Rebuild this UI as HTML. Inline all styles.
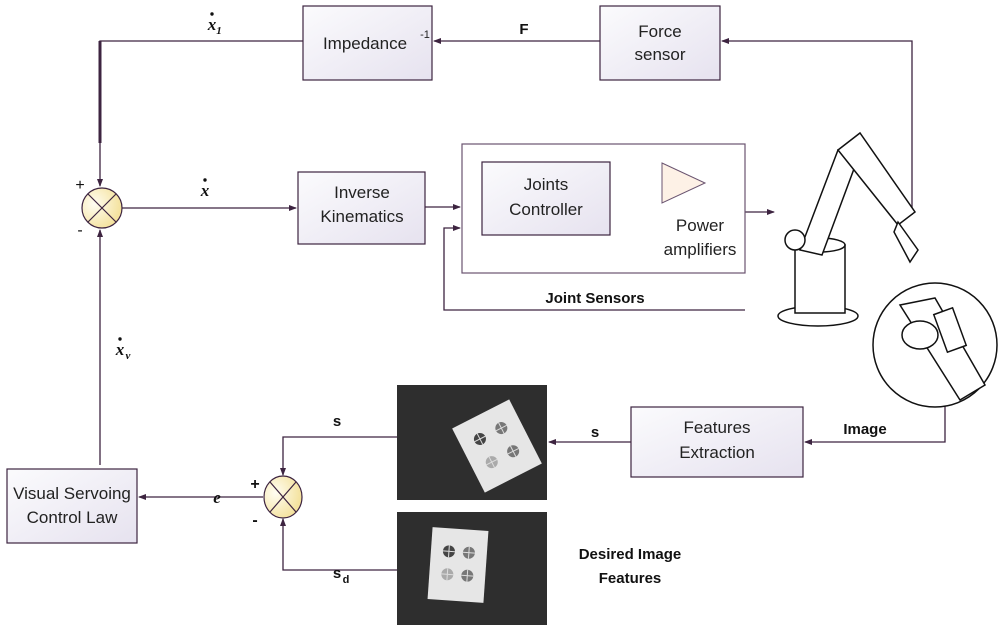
<!DOCTYPE html>
<html><head><meta charset="utf-8"><style>
body{margin:0;background:#fff;}
svg{display:block;font-family:"Liberation Sans",sans-serif;}
</style></head><body>
<svg width="1000" height="631" viewBox="0 0 1000 631" xmlns="http://www.w3.org/2000/svg">
<defs>
<linearGradient id="bx" x1="0" y1="0" x2="1" y2="1"><stop offset="0" stop-color="#fbfbfd"/><stop offset="1" stop-color="#e6e2ef"/></linearGradient>
<radialGradient id="sj" cx="0.3" cy="0.4" r="0.8"><stop offset="0" stop-color="#fffdf2"/><stop offset="1" stop-color="#f2dd8e"/></radialGradient>
<marker id="a" markerWidth="8" markerHeight="8" refX="7" refY="4" orient="auto" markerUnits="userSpaceOnUse"><path d="M0,1 L8,4 L0,7z" fill="#3d2440"/></marker>
</defs>
<g stroke="#3d2440" stroke-width="1.3" fill="none">
<path d="M912,215 V41 H722" marker-end="url(#a)"/>
<path d="M600,41 H434" marker-end="url(#a)"/>
<path d="M303,41 H100 V186" marker-end="url(#a)"/>
<path d="M100,41 V143" stroke-width="3"/>
<path d="M122,208 H296" marker-end="url(#a)"/>
<path d="M425,207 H460" marker-end="url(#a)"/>
<path d="M745,310 H444 V228 H460" marker-end="url(#a)"/>
<path d="M745,212 H774" marker-end="url(#a)"/>
<path d="M100,465 V230" marker-end="url(#a)"/>
<path d="M397,437 H283 V475" marker-end="url(#a)"/>
<path d="M397,570 H283 V519" marker-end="url(#a)"/>
<path d="M263,497 H139" marker-end="url(#a)"/>
<path d="M631,442 H549" marker-end="url(#a)"/>
<path d="M945,395 V442 H805" marker-end="url(#a)"/>
</g>
<g stroke="#3d2440" stroke-width="1.2" fill="url(#bx)">
<rect x="303" y="6" width="129" height="74"/>
<rect x="600" y="6" width="120" height="74"/>
<rect x="298" y="172" width="127" height="72"/>
<rect x="462" y="144" width="283" height="129" fill="#fff" stroke="#6a5470"/>
<rect x="482" y="162" width="128" height="73"/>
<rect x="7" y="469" width="130" height="74"/>
<rect x="631" y="407" width="172" height="70"/>
</g>
<path d="M662,163 L705,183 L662,203z" fill="#fdf1e6" stroke="#6a5470"/>
<g stroke="#3d2440" stroke-width="1.2">
<circle cx="102" cy="208" r="20" fill="url(#sj)"/>
<path d="M88,194 L116,222 M116,194 L88,222"/>
<ellipse cx="283" cy="497" rx="19" ry="21" fill="url(#sj)"/>
<path d="M270,482 L296,512 M296,482 L270,512"/>
</g>
<g fill="#222" font-size="17" text-anchor="middle">
<text x="365" y="49">Impedance</text><text x="425" y="38" font-size="11">-1</text>
<text x="660" y="37">Force</text><text x="660" y="60">sensor</text>
<text x="362" y="198">Inverse</text><text x="362" y="222">Kinematics</text>
<text x="546" y="190">Joints</text><text x="546" y="215">Controller</text>
<text x="700" y="231">Power</text><text x="700" y="255">amplifiers</text>
<text x="72" y="499">Visual Servoing</text><text x="72" y="523">Control Law</text>
<text x="717" y="433">Features</text><text x="717" y="458">Extraction</text>
</g>
<g fill="#111" font-size="15" font-weight="bold" text-anchor="middle">
<text x="595" y="303">Joint Sensors</text>
<text x="865" y="434">Image</text>
<text x="630" y="559">Desired Image</text>
<text x="630" y="583">Features</text>
<text x="524" y="34">F</text>
<text x="337" y="426">s</text>
<text x="595" y="437">s</text>
<text x="337" y="578">s</text><text x="346" y="583" font-size="11">d</text>
<text x="255" y="489" font-size="16">+</text>
<text x="255" y="525" font-size="16">-</text>
<text x="80" y="190" font-size="16" font-weight="normal">+</text>
<text x="80" y="235" font-size="16" font-weight="normal">-</text>
</g>
<g fill="#111" font-size="17" font-weight="bold" font-style="italic" font-family="Liberation Serif,serif" text-anchor="middle">
<text x="212" y="30">x</text><text x="219" y="34" font-size="11">1</text><circle cx="212" cy="14" r="1.7"/>
<text x="205" y="196">x</text><circle cx="205" cy="180" r="1.7"/>
<text x="120" y="355">x</text><text x="128" y="359" font-size="11">v</text><circle cx="120" cy="339" r="1.7"/>
<text x="217" y="503">e</text>
</g>
<rect x="397" y="385" width="150" height="115" fill="#2e2e2e"/>
<g transform="translate(497,446) rotate(-27)"><rect x="-32" y="-36" width="64" height="72" fill="#e6e6e6"/>
<g fill="#777"><circle cx="-12" cy="-14" r="6" fill="#444"/><circle cx="12" cy="-14" r="6"/><circle cx="-12" cy="12" r="6" fill="#aaa"/><circle cx="12" cy="12" r="6"/></g>
<g stroke="#ddd" stroke-width="1"><path d="M-18,-14h12M-12,-20v12M6,-14h12M12,-20v12M-18,12h12M-12,6v12M6,12h12M12,6v12"/></g></g>
<rect x="397" y="512" width="150" height="113" fill="#2e2e2e"/>
<g transform="translate(458,565) rotate(4)"><rect x="-28" y="-36" width="56" height="72" fill="#e6e6e6"/>
<g fill="#777"><circle cx="-10" cy="-13" r="6" fill="#444"/><circle cx="10" cy="-13" r="6"/><circle cx="-10" cy="10" r="6" fill="#aaa"/><circle cx="10" cy="10" r="6"/></g>
<g stroke="#ddd" stroke-width="1"><path d="M-16,-13h12M-10,-19v12M4,-13h12M10,-19v12M-16,10h12M-10,4v12M4,10h12M10,4v12"/></g></g>
<g stroke="#111" stroke-width="1.5" fill="#fff">
<ellipse cx="818" cy="316" rx="40" ry="10"/>
<rect x="795" y="245" width="50" height="68"/>
<ellipse cx="820" cy="245" rx="25" ry="7"/>
<path d="M800,250 L838,150 L858,158 L822,255z"/>
<path d="M838,150 L860,133 L915,212 L898,225z"/>
<circle cx="795" cy="240" r="10"/>
<path d="M898,222 L918,250 L910,262 L894,232z"/>
<circle cx="935" cy="345" r="62"/>
<path d="M900,305 L935,298 L985,385 L960,400z"/>
<ellipse cx="920" cy="335" rx="18" ry="14"/>
<rect x="940" y="310" width="20" height="40" transform="rotate(-20 950 330)"/>
</g>
</svg>
</body></html>
